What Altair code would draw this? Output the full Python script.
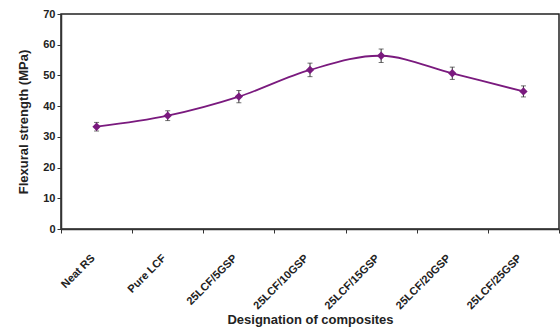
import altair as alt
import pandas as pd

categories = ["Neat RS", "Pure LCF", "25LCF/5GSP", "25LCF/10GSP", "25LCF/15GSP", "25LCF/20GSP", "25LCF/25GSP"]
strength = [33.3, 36.9, 43.1, 51.8, 56.4, 50.7, 44.8]
error = [1.4, 1.6, 2.0, 2.2, 2.2, 2.0, 1.8]

df = pd.DataFrame({"cat": categories, "val": strength, "err": error})
df["lo"] = df["val"] - df["err"]
df["hi"] = df["val"] + df["err"]

color = "#7A1A7E"
font = "Liberation Sans"

x_axis = alt.Axis(labelAngle=-45, tickBand="extent", labelFont=font, labelFontSize=11,
                  labelFontWeight="bold", labelColor="#222", titleFont=font, titleFontSize=13,
                  titleFontWeight="bold", titleColor="#222", domainColor="#333", tickColor="#333",
                  domainWidth=1.5, tickSize=4, labelPadding=19, labelOffset=-8, titlePadding=3)
y_axis = alt.Axis(values=list(range(0, 71, 10)), grid=False, labelFont=font, labelFontSize=11,
                  labelFontWeight="bold", labelColor="#222", titleFont=font, titleFontSize=13,
                  titleFontWeight="bold", titleColor="#222", domainColor="#333", tickColor="#333",
                  domainWidth=1.5, tickSize=4, titlePadding=12)
xs = alt.Scale(paddingInner=0, paddingOuter=0)
ys = alt.Scale(domain=[0, 70])
x = alt.X("cat:N", sort=categories, title="Designation of composites", scale=xs, axis=x_axis)
y = alt.Y("val:Q", title="Flexural strength (MPa)", scale=ys, axis=y_axis)

base = alt.Chart(df)
line = base.mark_line(color=color, strokeWidth=1.8, interpolate="catmull-rom").encode(x=x, y=y)
err = base.mark_errorbar(color="#333", ticks=alt.MarkConfig(size=5, color="#333"), thickness=1).encode(
    x=x, y=alt.Y("lo:Q", title="Flexural strength (MPa)", scale=ys, axis=y_axis), y2="hi:Q")
pts = base.mark_point(shape="diamond", filled=True, size=70, color=color, opacity=1).encode(x=x, y=y)

chart = alt.layer(line, err, pts).properties(
    width=498, height=215,
    autosize=alt.AutoSizeParams(type="none"),
    padding={"left": 61, "top": 14, "right": 1, "bottom": 100},
    background="white",
).configure_view(stroke="#222", strokeWidth=1.5, strokeOpacity=1)

chart.save("out.html", embed_options={"renderer": "svg", "actions": False})
